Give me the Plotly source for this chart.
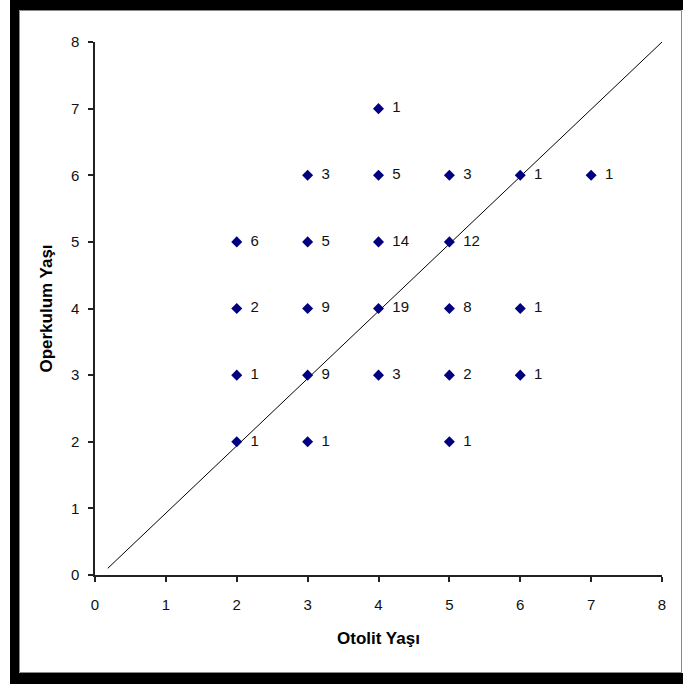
import plotly.graph_objects as go

# Data
otolit = [4, 3, 4, 5, 6, 7, 2, 3, 4, 5, 2, 3, 4, 5, 6, 2, 3, 4, 5, 6, 2, 3, 5]
operkulum = [7, 6, 6, 6, 6, 6, 5, 5, 5, 5, 4, 4, 4, 4, 4, 3, 3, 3, 3, 3, 2, 2, 2]
counts = [1, 3, 5, 3, 1, 1, 6, 5, 14, 12, 2, 9, 19, 8, 1, 1, 9, 3, 2, 1, 1, 1, 1]
line_x = [0.18, 8]
line_y = [0.1, 8]
ticks = [0, 1, 2, 3, 4, 5, 6, 7, 8]

W, H = 683, 684
L, R, T, B = 95, 21, 42, 109
pw, ph = W - L - R, H - T - B

def px(xp):
    return (xp - L) / pw

def py(yp):
    return (H - B - yp) / ph

FONT = "Arial, Liberation Sans"

fig = go.Figure()
fig.add_trace(go.Scatter(x=line_x, y=line_y, mode="lines",
                         line=dict(color="black", width=1), hoverinfo="skip",
                         showlegend=False))
fig.add_trace(go.Scatter(x=otolit, y=operkulum, mode="markers+text",
                         text=["\u2002" + str(c) for c in counts],
                         textposition="middle right",
                         textfont=dict(family=FONT, size=15, color="#111111"),
                         marker=dict(symbol="diamond", size=8.5, color="#000080"),
                         showlegend=False))

axis_common = dict(
    range=[0, 8], tickvals=ticks, showgrid=False, zeroline=False,
    showline=True, linecolor="#222222", linewidth=1.5,
    ticks="outside", ticklen=5, tickcolor="#222222", tickwidth=1.5,
    tickfont=dict(family=FONT, size=15, color="#111111"),
)

fig.update_layout(
    width=W, height=H,
    margin=dict(l=L, r=R, t=T, b=B),
    paper_bgcolor="white", plot_bgcolor="white",
    xaxis=dict(**axis_common, ticklabelstandoff=10,
               title=dict(text="<b>Otolit Yaşı</b>", standoff=20,
                          font=dict(family=FONT, size=17, color="black"))),
    yaxis=dict(**axis_common, ticklabelstandoff=6,
               title=dict(text="<b>Operkulum Yaşı</b>", standoff=14,
                          font=dict(family=FONT, size=17, color="black"))),
    shapes=[
        dict(type="rect", xref="paper", yref="paper",
             x0=px(19.5), x1=px(681.5), y0=py(10.5), y1=py(672.5),
             line=dict(color="#888888", width=1), fillcolor="rgba(0,0,0,0)", layer="below"),
        dict(type="rect", xref="paper", yref="paper",
             x0=px(10), x1=px(19), y0=py(0), y1=py(684),
             line=dict(width=0), fillcolor="black"),
        dict(type="rect", xref="paper", yref="paper",
             x0=px(10), x1=px(683), y0=py(0), y1=py(10),
             line=dict(width=0), fillcolor="black"),
        dict(type="rect", xref="paper", yref="paper",
             x0=px(10), x1=px(683), y0=py(673), y1=py(684),
             line=dict(width=0), fillcolor="black"),
    ],
)

fig.write_html("out.html")
